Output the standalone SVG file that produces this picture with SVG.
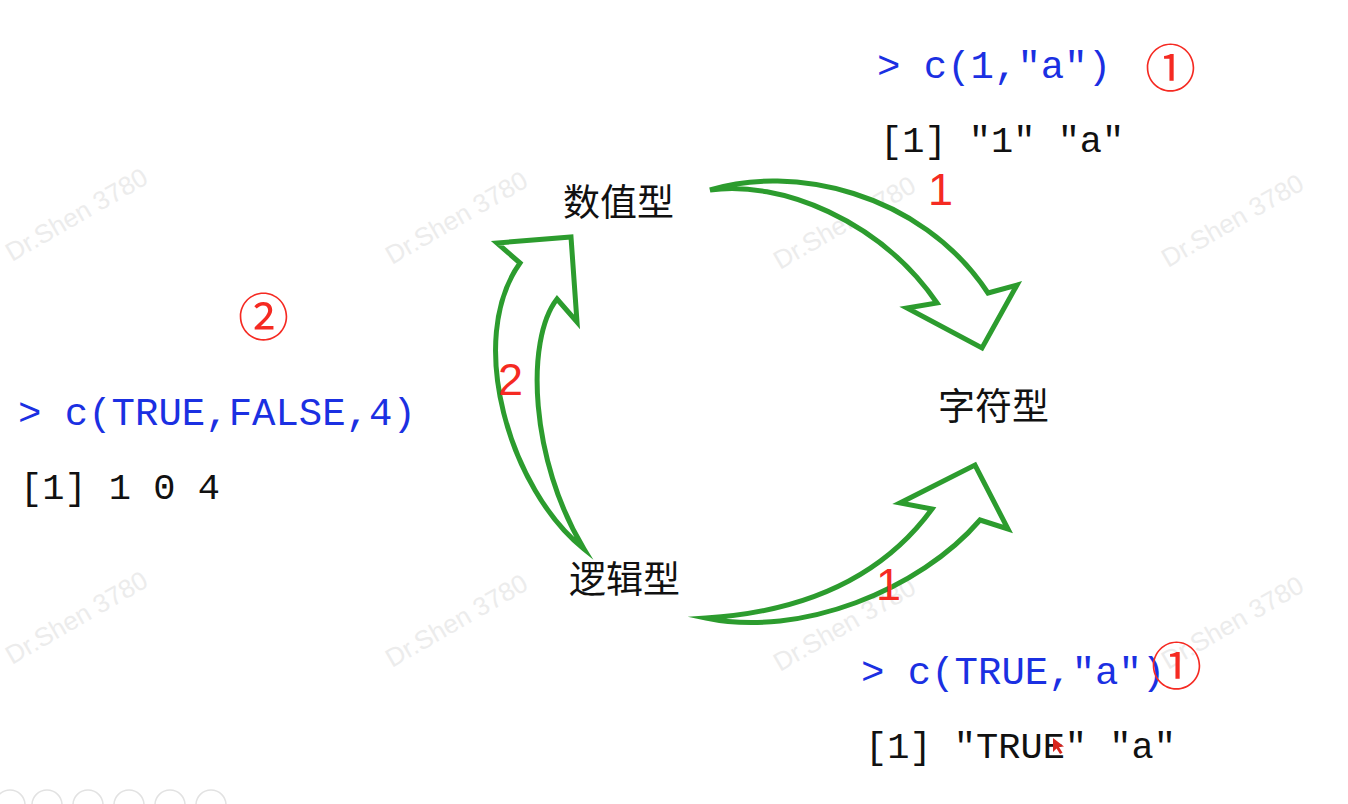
<svg xmlns="http://www.w3.org/2000/svg" width="1348" height="804" viewBox="0 0 1348 804">
  <style>
    .wm { font-family: "Liberation Sans", Arial, sans-serif; font-size: 26px; fill: #ececec; }
    .cjk { font-family: "Noto Sans CJK SC", "Noto Sans", sans-serif; font-size: 37px; fill: #111; }
    .cmd { font-family: "Liberation Mono", "DejaVu Sans Mono", monospace; font-size: 39px; fill: #1b30e2; }
    .out { font-family: "Liberation Mono", "DejaVu Sans Mono", monospace; font-size: 37px; fill: #111; }
    .num { font-family: "Liberation Sans", Arial, sans-serif; font-size: 45px; fill: #f52a22; }
    .circ { font-family: "Noto Sans CJK SC", "DejaVu Sans", sans-serif; font-size: 51px; fill: #f52a22; }
    .arrow { fill: #ffffff; stroke: #2c9c2e; stroke-width: 5; stroke-linejoin: miter; stroke-miterlimit: 10; }
    .icon { fill: none; stroke: #e2e2e2; stroke-width: 1.5; }
  </style>
  <rect width="1348" height="804" fill="#ffffff"/>

  <g id="watermarks">
    <text class="wm" transform="translate(12,262) rotate(-30)">Dr.Shen 3780</text>
    <text class="wm" transform="translate(392,265) rotate(-30)">Dr.Shen 3780</text>
    <text class="wm" transform="translate(780,270) rotate(-30)">Dr.Shen 3780</text>
    <text class="wm" transform="translate(1168,268) rotate(-30)">Dr.Shen 3780</text>
    <text class="wm" transform="translate(12,665) rotate(-30)">Dr.Shen 3780</text>
    <text class="wm" transform="translate(392,668) rotate(-30)">Dr.Shen 3780</text>
    <text class="wm" transform="translate(780,672) rotate(-30)">Dr.Shen 3780</text>
    <text class="wm" transform="translate(1168,670) rotate(-30)">Dr.Shen 3780</text>
  </g>

  <g id="connectors">
    <path class="arrow" d="M710,190 C790,165 920,190 988,293 L1017,285 L982,348 L907,308 L937,303 C880,220 780,180 710,190 Z"/>
    <path class="arrow" d="M706,618 C800,612 880,580 932,509 L900,503 L975,465 L1008,529 L980,520 C920,590 800,638 706,618 Z"/>
    <path class="arrow" d="M584,549 C510,490 465,340 520,263 L497,243 L571,237 L577,322 L557,299 C525,340 530,460 584,549 Z"/>
    <text class="num" x="928" y="205">1</text>
    <text class="num" x="876" y="600">1</text>
    <text class="num" x="498" y="395">2</text>
  </g>

  <g id="node-numeric">
    <text class="cjk" x="563" y="216">数值型</text>
  </g>
  <g id="node-character">
    <text class="cjk" x="938" y="420">字符型</text>
  </g>
  <g id="node-logical">
    <text class="cjk" x="569" y="593">逻辑型</text>
  </g>

  <g id="example-top">
    <text class="cmd" x="877" y="78">&gt; c(1,"a")</text>
    <text class="circ" x="1145" y="87">①</text>
    <text class="out" x="880" y="152">[1] "1" "a"</text>
  </g>

  <g id="example-left">
    <text class="circ" x="238" y="336">②</text>
    <text class="cmd" x="18" y="425">&gt; c(TRUE,FALSE,4)</text>
    <text class="out" x="20" y="499">[1] 1 0 4</text>
  </g>

  <g id="example-bottom">
    <text class="cmd" x="861" y="684">&gt; c(TRUE,"a")</text>
    <text class="circ" x="1151" y="685">①</text>
    <text class="out" x="865" y="758">[1] "TRUE" "a"</text>
    <path d="M1053,738 L1053,752 L1056.5,748.5 L1060,754 L1062.5,752.8 L1059,747 L1064,746.5 Z" fill="#d8261e"/>
  </g>

  <g id="toolbar">
    <circle class="icon" cx="10" cy="805" r="15"/>
    <circle class="icon" cx="47" cy="805" r="15"/>
    <circle class="icon" cx="88" cy="805" r="15"/>
    <circle class="icon" cx="129" cy="805" r="15"/>
    <circle class="icon" cx="170" cy="805" r="15"/>
    <circle class="icon" cx="211" cy="805" r="15"/>
  </g>
</svg>
